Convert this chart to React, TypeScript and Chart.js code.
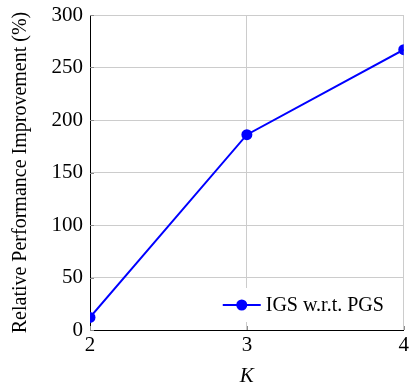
import React, { useEffect, useRef } from "react";
import { Chart, registerables } from "chart.js";

Chart.register(...registerables);

const kValues = [2, 3, 4];
const improvement = [12, 186, 267];
const seriesLabel = "IGS w.r.t. PGS";
const yTitle = "Relative Performance Improvement (%)";
const xTitle = "K";
const lineColor = "#0000ff";
const serif = "'Liberation Serif', 'DejaVu Serif', serif";

const decor = {
  id: "decor",
  afterDraw(chart: any) {
    const { ctx, chartArea, scales } = chart;
    const { left, right, bottom } = chartArea;
    ctx.save();
    ctx.strokeStyle = "#8c8c8c";
    ctx.lineWidth = 1;
    scales.y.ticks.forEach((t: any) => {
      const y = Math.round(scales.y.getPixelForValue(t.value)) + 0.5;
      ctx.beginPath();
      ctx.moveTo(left, y);
      ctx.lineTo(left + 4, y);
      ctx.stroke();
    });
    scales.x.ticks.forEach((t: any) => {
      const x = Math.round(scales.x.getPixelForValue(t.value)) + 0.5;
      ctx.beginPath();
      ctx.moveTo(x, bottom);
      ctx.lineTo(x, bottom - 4);
      ctx.stroke();
    });
    const lw = 184;
    const lh = 34;
    const lx = right - 4 - lw;
    const ly = bottom - 8 - lh;
    ctx.fillStyle = "#ffffff";
    ctx.fillRect(lx, ly, lw, lh);
    const cy = ly + lh / 2;
    ctx.strokeStyle = lineColor;
    ctx.lineWidth = 2;
    ctx.beginPath();
    ctx.moveTo(lx + 7, cy);
    ctx.lineTo(lx + 45, cy);
    ctx.stroke();
    ctx.fillStyle = lineColor;
    ctx.beginPath();
    ctx.arc(lx + 26, cy, 5.5, 0, Math.PI * 2);
    ctx.fill();
    ctx.fillStyle = "#000000";
    ctx.font = `20px ${serif}`;
    ctx.textBaseline = "middle";
    ctx.textAlign = "left";
    ctx.fillText(seriesLabel, lx + 50, cy + 1);
    ctx.restore();
  },
};

export default function App() {
  const ref = useRef<HTMLCanvasElement>(null);
  useEffect(() => {
    document.body.style.margin = "0";
    const chart = new Chart(ref.current!, {
      type: "line",
      data: {
        datasets: [
          {
            label: seriesLabel,
            data: kValues.map((k, i) => ({ x: k, y: improvement[i] })),
            borderColor: lineColor,
            backgroundColor: lineColor,
            borderWidth: 2,
            pointRadius: 5.5,
            pointBackgroundColor: lineColor,
            pointBorderWidth: 0,
            tension: 0,
          },
        ],
      },
      options: {
        responsive: false,
        animation: false,
        layout: { padding: { top: 15, right: 6, left: 0, bottom: 0 } },
        plugins: { legend: { display: false }, tooltip: { enabled: false } },
        scales: {
          x: {
            type: "linear",
            min: 2,
            max: 4,
            afterFit: (s: any) => {
              s.height = 62;
            },
            ticks: {
              stepSize: 1,
              color: "#000",
              padding: 3,
              font: { family: serif, size: 21 },
            },
            grid: { color: "#cccccc", drawTicks: false },
            border: { color: "#000", width: 1 },
            title: {
              display: true,
              text: xTitle,
              color: "#000",
              padding: { top: 0, bottom: 3 },
              font: { family: serif, size: 21, style: "italic" },
            },
          },
          y: {
            min: 0,
            max: 300,
            afterFit: (s: any) => {
              s.width = 90;
              s.paddingTop = 0;
              s.paddingBottom = 0;
            },
            ticks: {
              stepSize: 50,
              color: "#000",
              padding: 7,
              font: { family: serif, size: 21 },
            },
            grid: { color: "#cccccc", drawTicks: false },
            border: { color: "#000", width: 1 },
            title: {
              display: true,
              text: yTitle,
              color: "#000",
              padding: { top: 9, bottom: 0 },
              font: { family: serif, size: 20 },
            },
          },
        },
      },
      plugins: [decor],
    });
    return () => chart.destroy();
  }, []);
  return <canvas ref={ref} width={412} height={392} style={{ display: "block" }} />;
}
